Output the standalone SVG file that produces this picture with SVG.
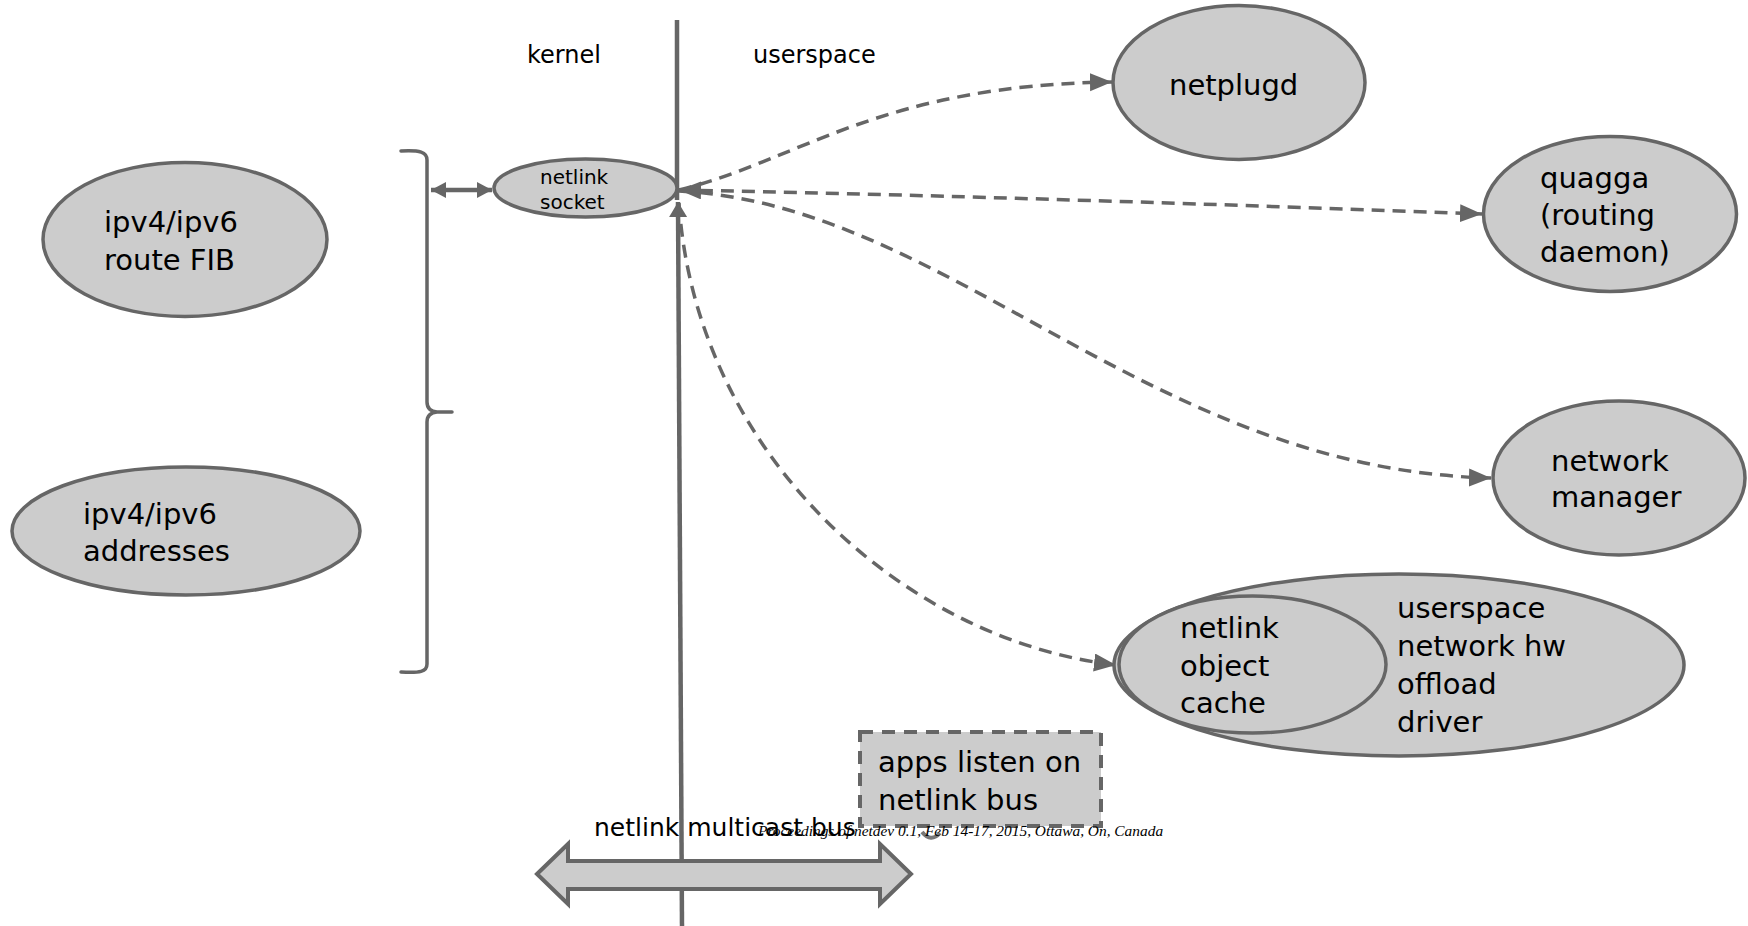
<svg xmlns="http://www.w3.org/2000/svg" width="1748" height="926" viewBox="0 0 1748 926">
  <defs>
    <style>
      .node { fill: #cccccc; stroke: #666666; stroke-width: 3.5; }
      .lbl { font-family: "DejaVu Sans", "Liberation Sans", sans-serif; font-size: 29px; fill: #000000; }
      .small { font-family: "DejaVu Sans", "Liberation Sans", sans-serif; font-size: 20px; fill: #000000; }
      .head { font-family: "DejaVu Sans", "Liberation Sans", sans-serif; font-size: 24px; fill: #000000; }
      .dash { fill: none; stroke: #666666; stroke-width: 3.5; stroke-dasharray: 13 8; }
      .solid { fill: none; stroke: #666666; stroke-width: 4.5; }
      .footer { font-family: "Liberation Serif", serif; font-style: italic; font-size: 15.4px; fill: #000000; }
    </style>
    <marker id="ah" markerUnits="userSpaceOnUse" markerWidth="24" markerHeight="20" refX="22" refY="9" orient="auto">
      <path d="M0,0 L22,9 L0,18 Z" fill="#666666"/>
    </marker>
    <marker id="ahs" markerUnits="userSpaceOnUse" markerWidth="24" markerHeight="20" refX="22" refY="9" orient="auto-start-reverse">
      <path d="M0,0 L22,9 L0,18 Z" fill="#666666"/>
    </marker>
    <marker id="sm" markerUnits="userSpaceOnUse" markerWidth="16" markerHeight="18" refX="15" refY="8" orient="auto-start-reverse">
      <path d="M0,0 L15,8 L0,16 Z" fill="#666666"/>
    </marker>
    <marker id="up" markerUnits="userSpaceOnUse" markerWidth="16" markerHeight="20" refX="15" refY="9" orient="auto">
      <path d="M0,0 L15,9 L0,18 Z" fill="#666666"/>
    </marker>
  </defs>
  <rect x="0" y="0" width="1748" height="926" fill="#ffffff"/>

  <!-- kernel / userspace separator -->
  <g id="separator">
    <line x1="677" y1="20" x2="677" y2="200" stroke="#666666" stroke-width="4.5"/>
    <text class="head" x="527" y="63">kernel</text>
    <text class="head" x="753" y="63">userspace</text>
  </g>

  <!-- bracket -->
  <g id="bracket">
    <path d="M401 151 C420 150 427 152 427 160 L427 402 Q427 411 437 412 L452 412 M437 412 Q427 413 427 422 L427 664 C427 672 420 673 401 672" fill="none" stroke="#666666" stroke-width="3.5" stroke-linecap="round"/>
  </g>

  <g id="connectors">
    <!-- bracket <-> socket -->
    <line x1="431" y1="190" x2="492" y2="190" stroke="#666666" stroke-width="4.5" marker-start="url(#sm)" marker-end="url(#sm)"/>
    <!-- bus -> socket (solid) -->
    <line x1="682" y1="926" x2="678" y2="202" class="solid" marker-end="url(#up)"/>
    <!-- socket -> netplugd -->
    <path class="dash" d="M679 190 C800 160 880 85 1112 82" marker-end="url(#ah)"/>
    <!-- socket <-> quagga -->
    <path class="dash" d="M679 190 Q1000 196 1482 214" marker-start="url(#ahs)" marker-end="url(#ah)"/>
    <!-- socket -> network manager -->
    <path class="dash" d="M679 191 C950 205 1150 470 1491 478" marker-end="url(#ah)"/>
    <!-- socket -> netlink object cache -->
    <path class="dash" d="M679 203 C695 450 900 640 1116 665" marker-end="url(#ah)"/>
  </g>

  <g id="netlink-socket">
    <ellipse class="node" cx="585.5" cy="188" rx="91.5" ry="29"/>
    <text class="small" x="540" y="184">netlink</text>
    <text class="small" x="540" y="209">socket</text>
  </g>

  <g id="route-fib">
    <ellipse class="node" cx="185" cy="239.5" rx="142" ry="77"/>
    <text class="lbl" x="104" y="232">ipv4/ipv6</text>
    <text class="lbl" x="104" y="270">route FIB</text>
  </g>

  <g id="addresses">
    <ellipse class="node" cx="186" cy="531" rx="174" ry="64"/>
    <text class="lbl" x="83" y="524">ipv4/ipv6</text>
    <text class="lbl" x="83" y="561">addresses</text>
  </g>

  <g id="netplugd">
    <ellipse class="node" cx="1239" cy="82.5" rx="126" ry="77"/>
    <text class="lbl" x="1169" y="95">netplugd</text>
  </g>

  <g id="quagga">
    <ellipse class="node" cx="1610" cy="214" rx="126.5" ry="77.5"/>
    <text class="lbl" x="1540" y="188">quagga</text>
    <text class="lbl" x="1540" y="225">(routing</text>
    <text class="lbl" x="1540" y="262">daemon)</text>
  </g>

  <g id="network-manager">
    <ellipse class="node" cx="1619" cy="478" rx="126" ry="77"/>
    <text class="lbl" x="1551" y="471">network</text>
    <text class="lbl" x="1551" y="507">manager</text>
  </g>

  <g id="offload-driver">
    <ellipse class="node" cx="1399" cy="665" rx="285" ry="91"/>
    <ellipse class="node" cx="1252.5" cy="664.5" rx="133.5" ry="68.5"/>
    <text class="lbl" x="1180" y="638">netlink</text>
    <text class="lbl" x="1180" y="676">object</text>
    <text class="lbl" x="1180" y="713">cache</text>
    <text class="lbl" x="1397" y="618">userspace</text>
    <text class="lbl" x="1397" y="656">network hw</text>
    <text class="lbl" x="1397" y="694">offload</text>
    <text class="lbl" x="1397" y="732">driver</text>
  </g>

  <g id="apps-note">
    <rect x="860" y="732" width="241" height="94" fill="#cccccc" stroke="#666666" stroke-width="4" stroke-dasharray="13 9"/>
    <path d="M922 832 Q931 843 940 833" fill="none" stroke="#777777" stroke-width="4"/>
    <text class="lbl" x="878" y="772">apps listen on</text>
    <text class="lbl" x="878" y="810">netlink bus</text>
  </g>

  <g id="multicast-bus">
    <path d="M537 874 L568 844 L568 861 L880 861 L880 844 L911 874 L880 904 L880 889 L568 889 L568 904 Z" fill="#cccccc" stroke="#666666" stroke-width="4" stroke-linejoin="miter"/>
    <text class="lbl" x="594" y="836" style="font-size:25px">netlink multicast bus</text>
  </g>

  <text class="footer" x="758" y="836">Proceedings of netdev 0.1, Feb 14-17, 2015, Ottawa, On, Canada</text>
</svg>
